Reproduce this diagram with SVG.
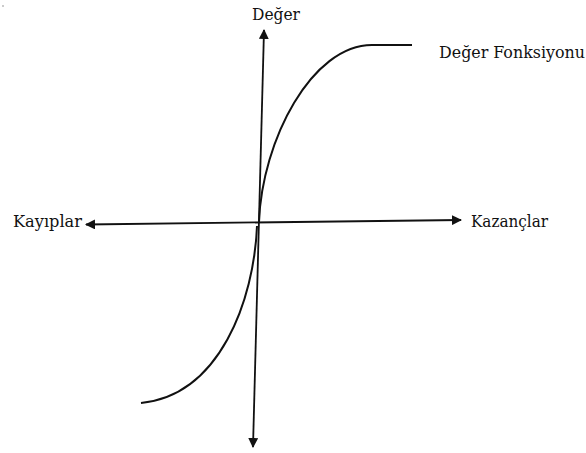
<svg xmlns="http://www.w3.org/2000/svg" width="586" height="453" viewBox="0 0 586 453">
  <style>
    .lbl { font-family: 'DejaVu Serif Condensed', 'DejaVu Serif', serif; font-size: 17.5px; fill: #111; }
    .axis { stroke: #111; stroke-width: 1.8; fill: none; marker-start: url(#arr); marker-end: url(#arr); }
    .curve { stroke: #111; stroke-width: 2; fill: none; }
  </style>
  <defs>
    <marker id="arr" viewBox="0 0 10 10" refX="9" refY="5" markerWidth="10" markerHeight="10" markerUnits="userSpaceOnUse" orient="auto-start-reverse">
      <path d="M0,0 L10,5 L0,10 z" fill="#111"/>
    </marker>
  </defs>
  <rect width="586" height="453" fill="#fff"/>
  <circle cx="3" cy="6" r="0.8" fill="#888"/>
  <g id="connectors">
    <line id="y-axis" class="axis" x1="264" y1="30" x2="253" y2="447"/>
    <line id="x-axis" class="axis" x1="86" y1="224.5" x2="461" y2="220"/>
  </g>
  <g id="value-function">
    <path class="curve" d="M259,222 C262,140 312,45 372,45 L412,45"/>
    <path class="curve" d="M257,226 C254,300 220,395 141,403"/>
  </g>
  <g id="label-deger"><text class="lbl" x="252" y="20" textLength="48" lengthAdjust="spacingAndGlyphs">Değer</text></g>
  <g id="label-fonksiyon"><text class="lbl" x="439" y="58" textLength="146" lengthAdjust="spacingAndGlyphs">Değer Fonksiyonu</text></g>
  <g id="label-kayiplar"><text class="lbl" x="13" y="227" textLength="69" lengthAdjust="spacingAndGlyphs">Kayıplar</text></g>
  <g id="label-kazanclar"><text class="lbl" x="471" y="226.5" textLength="77" lengthAdjust="spacingAndGlyphs">Kazançlar</text></g>
</svg>
